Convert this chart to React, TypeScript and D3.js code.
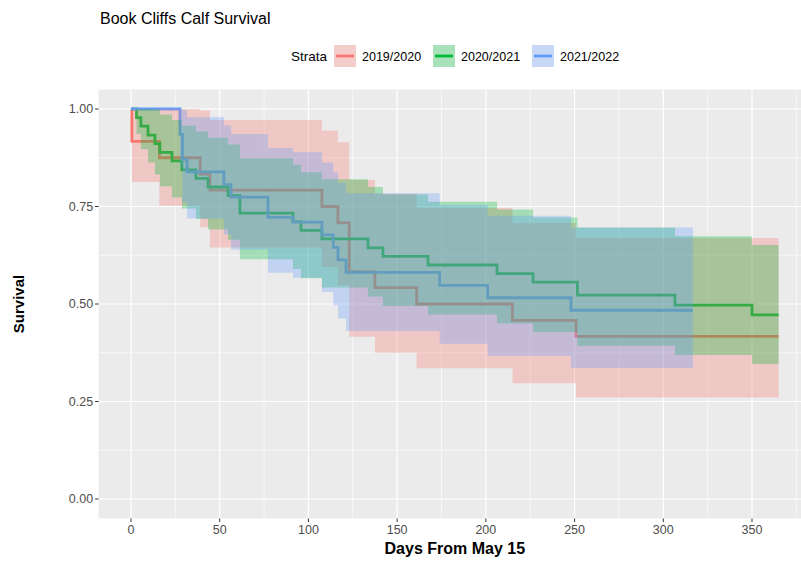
import React from "react";
import * as d3 from "d3";

const strataNames = ["2019/2020", "2020/2021", "2021/2022"];
const colors = ["#F8766D", "#00BA38", "#619CFF"];

const redTime = [0, 0.5, 16, 39, 44.5, 107.6, 116.6, 123, 137.5, 161, 215, 250.8, 365];
const redSurv = [1, 0.917, 0.875, 0.833, 0.792, 0.75, 0.708, 0.583, 0.542, 0.5, 0.458, 0.417, 0.417];
const redUpper = [1, 1, 1, 0.996, 0.972, 0.945, 0.915, 0.818, 0.783, 0.746, 0.708, 0.669, 0.669];
const redLower = [1, 0.813, 0.752, 0.697, 0.645, 0.595, 0.548, 0.416, 0.375, 0.335, 0.297, 0.26, 0.26];

const greenTime = [0, 3.1, 5.6, 9.6, 13.5, 16.3, 23.1, 28.7, 36.6, 43.4, 54.7, 61.4, 91.3, 95.8, 107.6, 133.6, 142, 167.4, 206.3, 226.6, 251.6, 306.6, 350, 365];
const greenSurv = [1, 0.978, 0.956, 0.933, 0.911, 0.889, 0.867, 0.844, 0.822, 0.8, 0.778, 0.733, 0.711, 0.689, 0.667, 0.644, 0.622, 0.6, 0.578, 0.556, 0.523, 0.497, 0.472, 0.472];
const greenUpper = [1, 1, 1, 1, 0.998, 0.986, 0.972, 0.957, 0.942, 0.926, 0.909, 0.874, 0.857, 0.838, 0.82, 0.8, 0.781, 0.762, 0.742, 0.722, 0.696, 0.674, 0.651, 0.651];
const greenLower = [1, 0.936, 0.897, 0.863, 0.832, 0.802, 0.773, 0.745, 0.718, 0.691, 0.665, 0.615, 0.59, 0.566, 0.542, 0.519, 0.495, 0.473, 0.45, 0.428, 0.393, 0.369, 0.346, 0.346];

const blueTime = [0, 27.6, 29, 31.6, 52.4, 56.4, 77.2, 91.3, 107.6, 114, 116.7, 121.2, 174, 201, 248, 316.7];
const blueSurv = [1, 0.935, 0.871, 0.839, 0.806, 0.774, 0.722, 0.71, 0.677, 0.645, 0.613, 0.581, 0.548, 0.516, 0.484, 0.484];
const blueUpper = [1, 1, 0.997, 0.979, 0.958, 0.936, 0.9, 0.889, 0.863, 0.837, 0.811, 0.784, 0.754, 0.726, 0.696, 0.696];
const blueLower = [1, 0.852, 0.761, 0.719, 0.678, 0.64, 0.58, 0.567, 0.531, 0.497, 0.463, 0.431, 0.398, 0.367, 0.336, 0.336];

const xTicks = [0, 50, 100, 150, 200, 250, 300, 350];
const yTicks = [0, 0.25, 0.5, 0.75, 1];

const W = 801;
const H = 561;
const panel = { left: 98.6, right: 811, top: 89.5, bottom: 518.5 };

export default function App() {
  const x = d3.scaleLinear().domain([-18.25, 383.25]).range([panel.left, panel.right]);
  const y = d3.scaleLinear().domain([-0.05, 1.05]).range([panel.bottom, panel.top]);

  const series = [
    { t: redTime, s: redSurv, u: redUpper, l: redLower },
    { t: greenTime, s: greenSurv, u: greenUpper, l: greenLower },
    { t: blueTime, s: blueSurv, u: blueUpper, l: blueLower },
  ];

  const line = d3
    .line<[number, number]>()
    .x((d) => x(d[0]))
    .y((d) => y(d[1]))
    .curve(d3.curveStepAfter);
  const area = d3
    .area<[number, number, number]>()
    .x((d) => x(d[0]))
    .y0((d) => y(d[1]))
    .y1((d) => y(d[2]))
    .curve(d3.curveStepAfter);

  const xMinor = d3.range(25, 400, 50).filter((v) => v <= 383.25);
  const yMinor = [0.125, 0.375, 0.625, 0.875];
  const font = "'Liberation Sans', Arial, sans-serif";

  const legendItems = [
    { kx: 334, tx: 362 },
    { kx: 433, tx: 461 },
    { kx: 532, tx: 560 },
  ];
  const legY = 56;

  return (
    <svg
      width={W}
      height={H}
      style={{ position: "absolute", left: 0, top: 0, background: "#fff" }}
      fontFamily={font}
    >
      <rect x={0} y={0} width={W} height={H} fill="#fff" />
      <text x={100} y={24} fontSize={16} fill="#000">
        Book Cliffs Calf Survival
      </text>

      {/* legend */}
      <text x={327} y={legY + 5} fontSize={13.5} fill="#000" textAnchor="end">
        Strata
      </text>
      {legendItems.map((it, i) => (
        <g key={i}>
          <rect x={it.kx} y={legY - 11} width={22} height={22} fill="#F2F2F2" />
          <rect x={it.kx} y={legY - 11} width={22} height={22} fill={colors[i]} fillOpacity={0.3} />
          <line x1={it.kx + 2} x2={it.kx + 20} y1={legY} y2={legY} stroke={colors[i]} strokeWidth={2.8} />
          <text x={it.tx} y={legY + 4.5} fontSize={12.5} fill="#000">
            {strataNames[i]}
          </text>
        </g>
      ))}

      {/* panel */}
      <rect
        x={panel.left}
        y={panel.top}
        width={panel.right - panel.left}
        height={panel.bottom - panel.top}
        fill="#EBEBEB"
      />
      {xMinor.map((v) => (
        <line key={"xm" + v} x1={x(v)} x2={x(v)} y1={panel.top} y2={panel.bottom} stroke="#fff" strokeWidth={0.6} />
      ))}
      {yMinor.map((v) => (
        <line key={"ym" + v} x1={panel.left} x2={panel.right} y1={y(v)} y2={y(v)} stroke="#fff" strokeWidth={0.6} />
      ))}
      {xTicks.map((v) => (
        <line key={"xM" + v} x1={x(v)} x2={x(v)} y1={panel.top} y2={panel.bottom} stroke="#fff" strokeWidth={1.2} />
      ))}
      {yTicks.map((v) => (
        <line key={"yM" + v} x1={panel.left} x2={panel.right} y1={y(v)} y2={y(v)} stroke="#fff" strokeWidth={1.2} />
      ))}

      {/* lines first, ribbons on top */}
      {series.map((sr, i) => (
        <path
          key={"l" + i}
          d={line(sr.t.map((t, j) => [t, sr.s[j]] as [number, number])) || ""}
          fill="none"
          stroke={colors[i]}
          strokeWidth={2.8}
        />
      ))}
      {series.map((sr, i) => (
        <path
          key={"a" + i}
          d={area(sr.t.map((t, j) => [t, sr.l[j], sr.u[j]] as [number, number, number])) || ""}
          fill={colors[i]}
          fillOpacity={0.3}
          stroke="none"
        />
      ))}

      {/* axes */}
      {xTicks.map((v) => (
        <g key={"xt" + v}>
          <line x1={x(v)} x2={x(v)} y1={panel.bottom} y2={panel.bottom + 3.5} stroke="#333" strokeWidth={1} />
          <text x={x(v)} y={panel.bottom + 15.5} fontSize={12.5} fill="#4D4D4D" textAnchor="middle">
            {v}
          </text>
        </g>
      ))}
      {yTicks.map((v) => (
        <g key={"yt" + v}>
          <line x1={panel.left - 3.5} x2={panel.left} y1={y(v)} y2={y(v)} stroke="#333" strokeWidth={1} />
          <text x={panel.left - 5.5} y={y(v) + 4.3} fontSize={12.5} fill="#4D4D4D" textAnchor="end">
            {d3.format(".2f")(v)}
          </text>
        </g>
      ))}
      <text
        x={(panel.left + panel.right) / 2}
        y={554}
        fontSize={16}
        fontWeight="bold"
        textAnchor="middle"
        fill="#000"
      >
        Days From May 15
      </text>
      <text
        transform={`translate(24, ${(panel.top + panel.bottom) / 2}) rotate(-90)`}
        fontSize={15}
        fontWeight="bold"
        textAnchor="middle"
        fill="#000"
      >
        Survival
      </text>
    </svg>
  );
}
